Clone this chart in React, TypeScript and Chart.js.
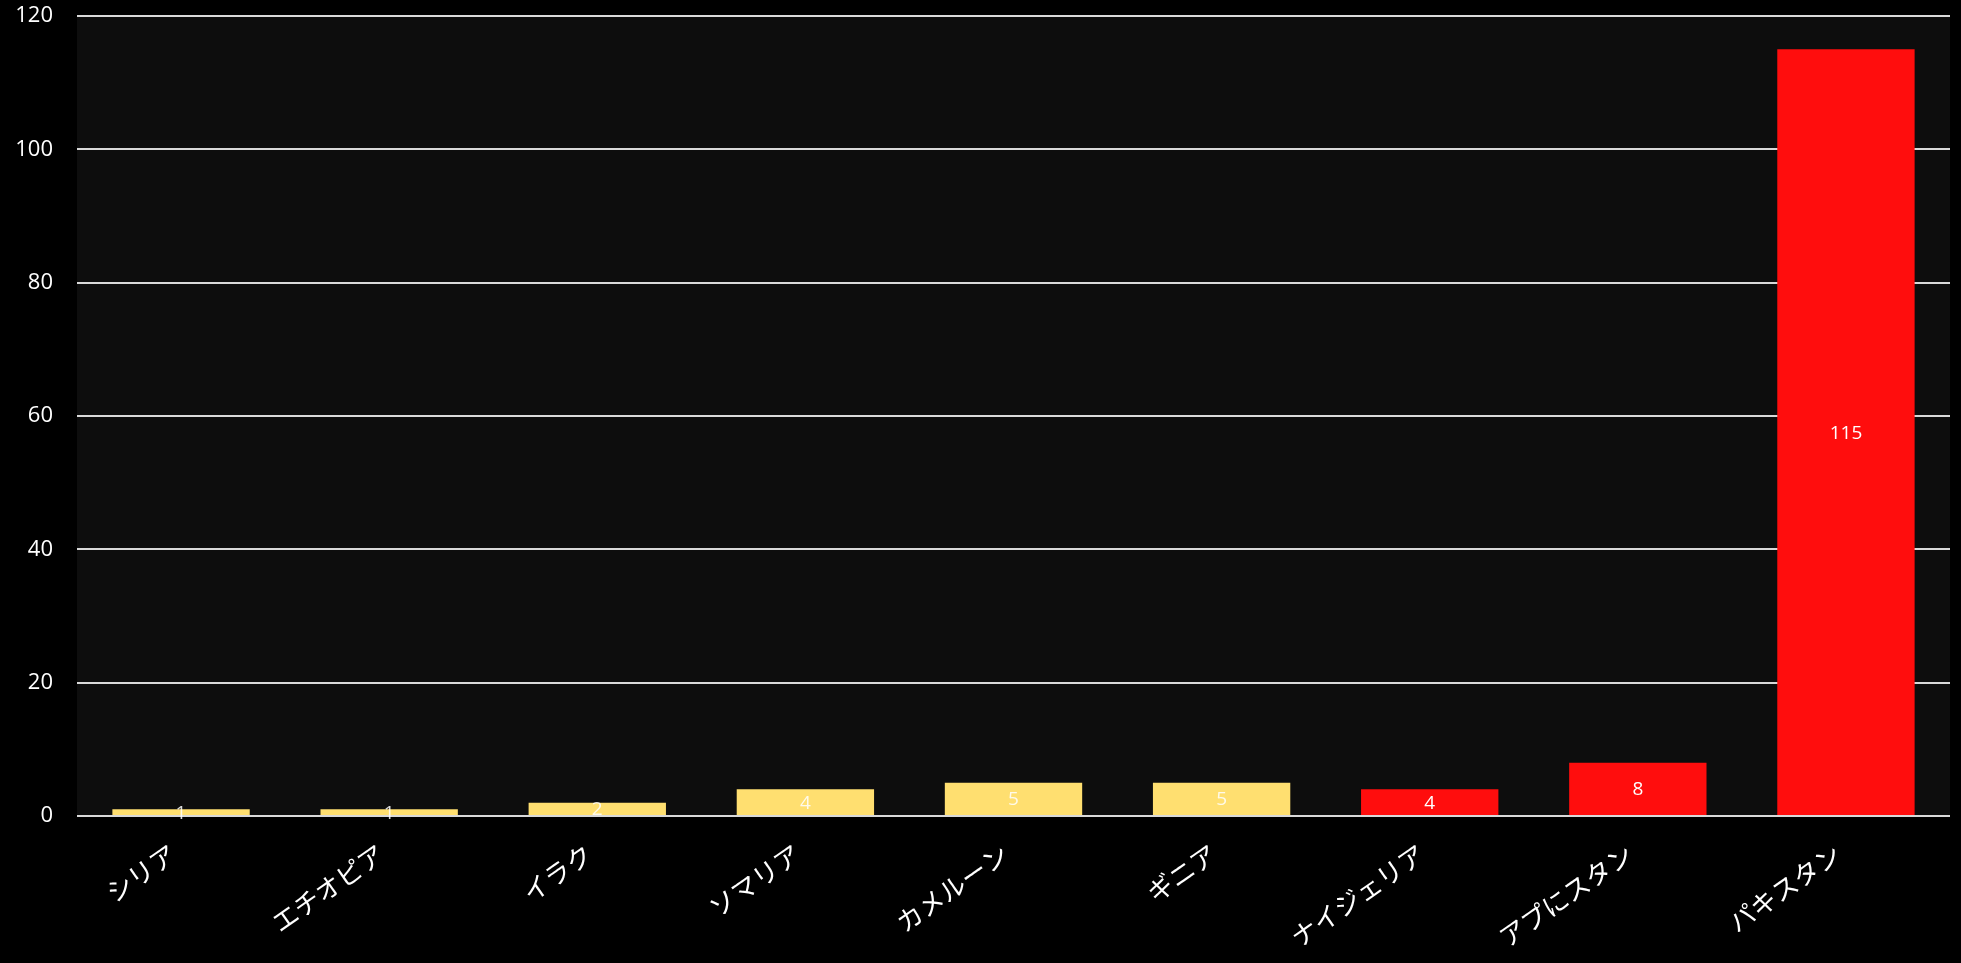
import React, { useEffect, useRef } from "react";
import { Chart, registerables } from "chart.js";

Chart.register(...registerables);

const categories = ["シリア", "エチオピア", "イラク", "ソマリア", "カメルーン", "ギニア", "ナイジェリア", "アプにスタン", "パキスタン"];
const values = [1, 1, 2, 4, 5, 5, 4, 8, 115];
const barColors = ["#ffdf70", "#ffdf70", "#ffdf70", "#ffdf70", "#ffdf70", "#ffdf70", "#ff0d0d", "#ff0d0d", "#ff0d0d"];
const yTicks = [0, 20, 40, 60, 80, 100, 120];

const plotBg = {
  id: "plotBg",
  beforeDraw(chart: any) {
    const { ctx, chartArea } = chart;
    ctx.save();
    ctx.fillStyle = "#000000";
    ctx.fillRect(0, 0, chart.width, chart.height);
    ctx.fillStyle = "#0d0d0d";
    ctx.fillRect(chartArea.left, chartArea.top, chartArea.right - chartArea.left, chartArea.bottom - chartArea.top);
    ctx.restore();
  },
};

const valueLabels = {
  id: "valueLabels",
  afterDatasetsDraw(chart: any) {
    const { ctx } = chart;
    const meta = chart.getDatasetMeta(0);
    ctx.save();
    ctx.font = "19px 'Open Sans', 'Liberation Sans', sans-serif";
    ctx.textAlign = "center";
    ctx.textBaseline = "middle";
    meta.data.forEach((el: any, i: number) => {
      const v = chart.data.datasets[0].data[i];
      ctx.fillStyle = i < 6 ? "rgba(255,255,255,0.85)" : "#ffffff";
      ctx.fillText(String(v), el.x, (el.y + el.base) / 2 + 1);
    });
    ctx.restore();
  },
};

export default function App() {
  const ref = useRef<HTMLCanvasElement>(null);
  useEffect(() => {
    document.body.style.margin = "0";
    document.body.style.background = "#000";
    const chart = new Chart(ref.current!, {
      type: "bar",
      data: {
        labels: categories,
        datasets: [
          {
            data: values,
            backgroundColor: barColors,
            borderWidth: 0,
            categoryPercentage: 0.66,
            barPercentage: 1,
          },
        ],
      },
      options: {
        animation: false,
        responsive: false,
        maintainAspectRatio: false,
        layout: { padding: { top: 0, right: 11, left: 0, bottom: 0 } },
        plugins: { legend: { display: false }, tooltip: { enabled: false } },
        scales: {
          x: {
            grid: { display: false },
            border: { display: false },
            ticks: {
              color: "#ffffff",
              font: { family: "'Noto Sans CJK JP', sans-serif", size: 26 },
              minRotation: 35,
              maxRotation: 35,
              padding: 14,
              labelOffset: -8,
            },
            afterFit(scale: any) {
              scale.height = 147;
            },
          },
          y: {
            min: 0,
            max: 120,
            afterBuildTicks(scale: any) {
              scale.ticks = yTicks.map((v) => ({ value: v }));
            },
            grid: { color: "#d9d9d9", lineWidth: 2, drawTicks: false },
            border: { display: false },
            ticks: {
              color: "#ffffff",
              font: { family: "'Open Sans', 'Liberation Sans', sans-serif", size: 22 },
              padding: 24,
            },
            afterFit(scale: any) {
              scale.width = 77;
              scale.paddingTop = 16;
              scale.paddingBottom = 0;
            },
          },
        },
      },
      plugins: [plotBg, valueLabels],
    });
    return () => chart.destroy();
  }, []);
  return <canvas ref={ref} width={1961} height={963} style={{ display: "block" }} />;
}
